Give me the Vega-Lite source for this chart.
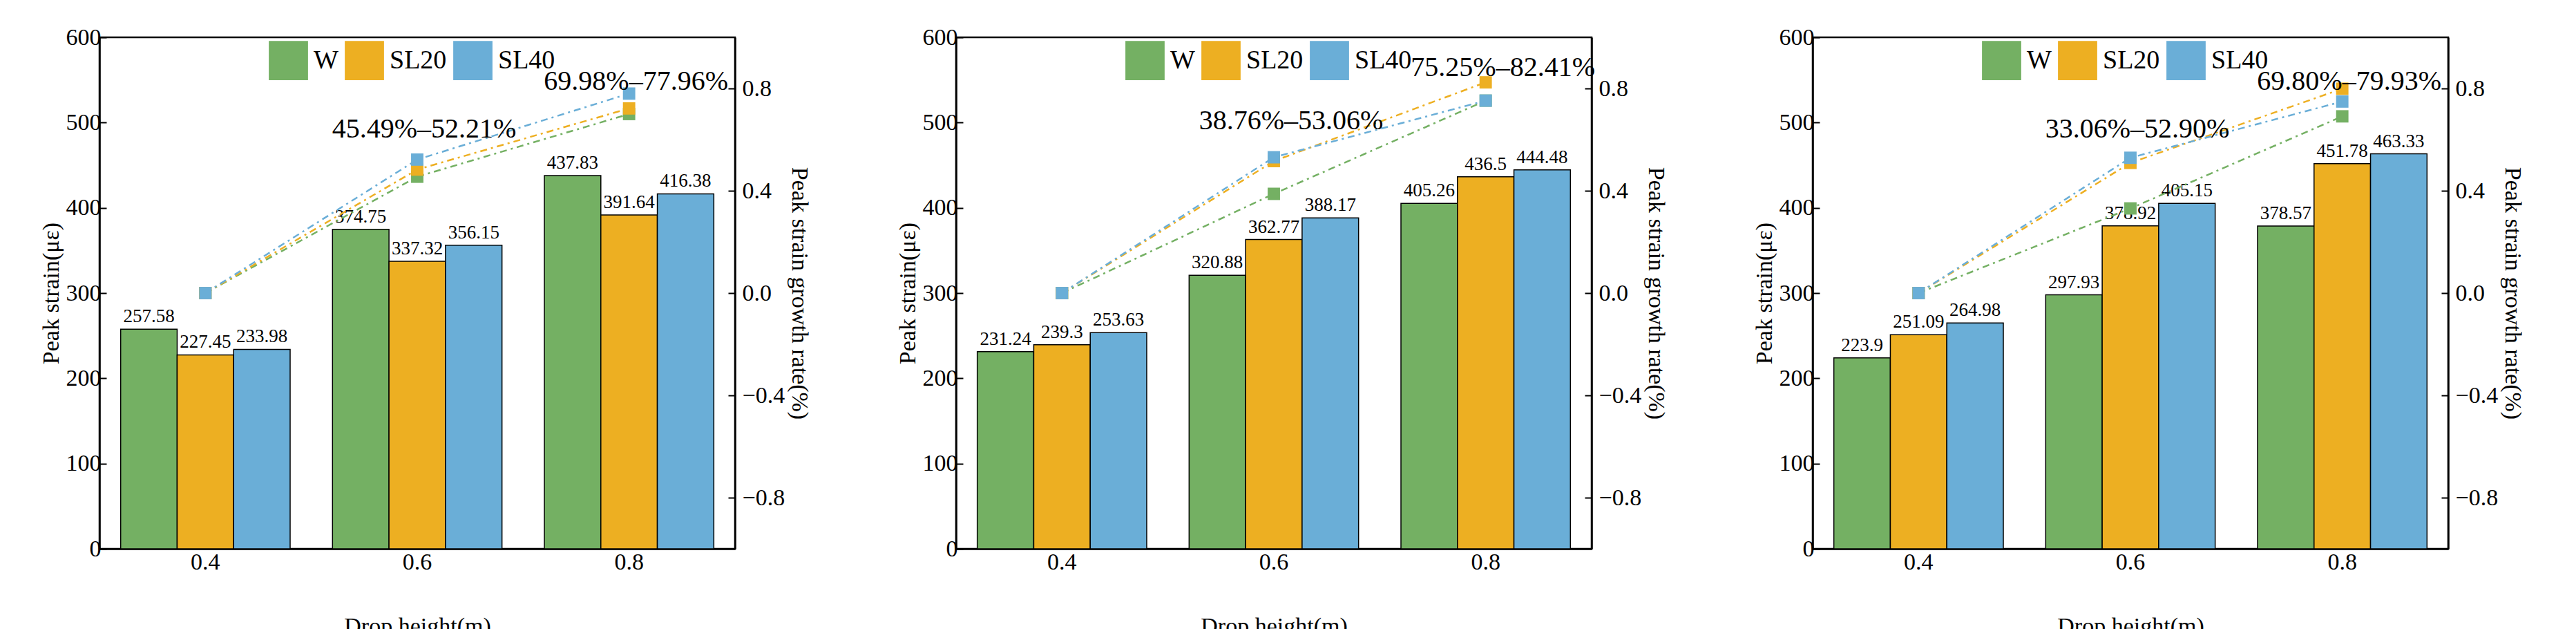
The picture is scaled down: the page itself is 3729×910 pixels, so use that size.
{
  "$schema": "https://vega.github.io/schema/vega-lite/v6.json",
  "background": "white",
  "padding": {"left": 55, "top": 35, "right": 5, "bottom": 5},
  "config": {
    "font": "Liberation Serif",
    "text": {"font": "Liberation Serif"},
    "view": {"stroke": "black", "strokeWidth": 2.5},
    "axis": {"labelFont": "Liberation Serif", "titleFont": "Liberation Serif", "labelFontSize": 34, "titleFontSize": 34, "titleFontWeight": "normal", "labelColor": "black", "titleColor": "black", "domainColor": "black", "domainWidth": 2.5, "tickColor": "black", "tickWidth": 2, "tickSize": 10, "grid": false},
    "legend": {"labelFont": "Liberation Serif", "labelFontSize": 38, "symbolType": "square", "symbolSize": 3000, "symbolStrokeColor": "black", "symbolStrokeWidth": 2, "symbolOpacity": 1, "columnPadding": 6, "labelOffset": 8}
  },
  "datasets": {
    "bars": [
      {"panel": 1, "drop": "0.4", "series": "W", "strain": 257.58},
      {"panel": 1, "drop": "0.4", "series": "SL20", "strain": 227.45},
      {"panel": 1, "drop": "0.4", "series": "SL40", "strain": 233.98},
      {"panel": 1, "drop": "0.6", "series": "W", "strain": 374.75},
      {"panel": 1, "drop": "0.6", "series": "SL20", "strain": 337.32},
      {"panel": 1, "drop": "0.6", "series": "SL40", "strain": 356.15},
      {"panel": 1, "drop": "0.8", "series": "W", "strain": 437.83},
      {"panel": 1, "drop": "0.8", "series": "SL20", "strain": 391.64},
      {"panel": 1, "drop": "0.8", "series": "SL40", "strain": 416.38},
      {"panel": 2, "drop": "0.4", "series": "W", "strain": 231.24},
      {"panel": 2, "drop": "0.4", "series": "SL20", "strain": 239.3},
      {"panel": 2, "drop": "0.4", "series": "SL40", "strain": 253.63},
      {"panel": 2, "drop": "0.6", "series": "W", "strain": 320.88},
      {"panel": 2, "drop": "0.6", "series": "SL20", "strain": 362.77},
      {"panel": 2, "drop": "0.6", "series": "SL40", "strain": 388.17},
      {"panel": 2, "drop": "0.8", "series": "W", "strain": 405.26},
      {"panel": 2, "drop": "0.8", "series": "SL20", "strain": 436.5},
      {"panel": 2, "drop": "0.8", "series": "SL40", "strain": 444.48},
      {"panel": 3, "drop": "0.4", "series": "W", "strain": 223.9},
      {"panel": 3, "drop": "0.4", "series": "SL20", "strain": 251.09},
      {"panel": 3, "drop": "0.4", "series": "SL40", "strain": 264.98},
      {"panel": 3, "drop": "0.6", "series": "W", "strain": 297.93},
      {"panel": 3, "drop": "0.6", "series": "SL20", "strain": 378.92},
      {"panel": 3, "drop": "0.6", "series": "SL40", "strain": 405.15},
      {"panel": 3, "drop": "0.8", "series": "W", "strain": 378.57},
      {"panel": 3, "drop": "0.8", "series": "SL20", "strain": 451.78},
      {"panel": 3, "drop": "0.8", "series": "SL40", "strain": 463.33}
    ],
    "lines": [
      {"panel": 1, "drop": "0.4", "series": "W", "rate": 0},
      {"panel": 1, "drop": "0.6", "series": "W", "rate": 0.455},
      {"panel": 1, "drop": "0.8", "series": "W", "rate": 0.700},
      {"panel": 1, "drop": "0.4", "series": "SL20", "rate": 0},
      {"panel": 1, "drop": "0.6", "series": "SL20", "rate": 0.483},
      {"panel": 1, "drop": "0.8", "series": "SL20", "rate": 0.722},
      {"panel": 1, "drop": "0.4", "series": "SL40", "rate": 0},
      {"panel": 1, "drop": "0.6", "series": "SL40", "rate": 0.522},
      {"panel": 1, "drop": "0.8", "series": "SL40", "rate": 0.780},
      {"panel": 2, "drop": "0.4", "series": "W", "rate": 0},
      {"panel": 2, "drop": "0.6", "series": "W", "rate": 0.388},
      {"panel": 2, "drop": "0.8", "series": "W", "rate": 0.7525},
      {"panel": 2, "drop": "0.4", "series": "SL20", "rate": 0},
      {"panel": 2, "drop": "0.6", "series": "SL20", "rate": 0.516},
      {"panel": 2, "drop": "0.8", "series": "SL20", "rate": 0.824},
      {"panel": 2, "drop": "0.4", "series": "SL40", "rate": 0},
      {"panel": 2, "drop": "0.6", "series": "SL40", "rate": 0.531},
      {"panel": 2, "drop": "0.8", "series": "SL40", "rate": 0.7525},
      {"panel": 3, "drop": "0.4", "series": "W", "rate": 0},
      {"panel": 3, "drop": "0.6", "series": "W", "rate": 0.331},
      {"panel": 3, "drop": "0.8", "series": "W", "rate": 0.691},
      {"panel": 3, "drop": "0.4", "series": "SL20", "rate": 0},
      {"panel": 3, "drop": "0.6", "series": "SL20", "rate": 0.509},
      {"panel": 3, "drop": "0.8", "series": "SL20", "rate": 0.799},
      {"panel": 3, "drop": "0.4", "series": "SL40", "rate": 0},
      {"panel": 3, "drop": "0.6", "series": "SL40", "rate": 0.529},
      {"panel": 3, "drop": "0.8", "series": "SL40", "rate": 0.749}
    ],
    "notes": [
      {"panel": 1, "drop": "0.6", "pos": 492, "label": "45.49%–52.21%"},
      {"panel": 1, "drop": "0.8", "pos": 548, "label": "69.98%–77.96%"},
      {"panel": 2, "drop": "0.6", "pos": 502, "label": "38.76%–53.06%"},
      {"panel": 2, "drop": "0.8", "pos": 564, "label": "75.25%–82.41%"},
      {"panel": 3, "drop": "0.6", "pos": 492, "label": "33.06%–52.90%"},
      {"panel": 3, "drop": "0.8", "pos": 548, "label": "69.80%–79.93%"}
    ]
  },
  "resolve": {"scale": {"color": "independent"}},
  "spacing": 120,
  "hconcat": [
    {
      "width": 920, "height": 740,
      "layer": [
        {
          "data": {"name": "bars"},
          "transform": [{"filter": "datum.panel == 1"}],
          "layer": [
            {"mark": {"type": "bar", "stroke": "black", "strokeWidth": 1.5},
             "encoding": {
               "x": {"field": "drop", "type": "nominal", "title": "Drop height(m)", "scale": {"paddingInner": 0.2, "paddingOuter": 0.1}, "axis": {"labelAngle": 0, "titleY": 95, "labelPadding": 14, "tickSize": -12}},
               "xOffset": {"field": "series", "type": "nominal", "sort": ["W", "SL20", "SL40"]},
               "y": {"field": "strain", "type": "quantitative", "title": "Peak strain(με)", "scale": {"domain": [0, 600]}, "axis": {"values": [0, 100, 200, 300, 400, 500, 600], "tickSize": -10, "labelPadding": 8}},
               "color": {"field": "series", "type": "nominal", "sort": ["W", "SL20", "SL40"], "scale": {"domain": ["W", "SL20", "SL40"], "range": ["#74b063", "#edaf22", "#6aaed7"]}, "legend": {"title": null, "orient": "none", "direction": "horizontal", "legendX": 245, "legendY": 5}}
             }},
            {"mark": {"type": "text", "dy": -4, "fontSize": 27, "baseline": "bottom", "font": "Liberation Serif"},
             "encoding": {
               "x": {"field": "drop", "type": "nominal"},
               "xOffset": {"field": "series", "type": "nominal", "sort": ["W", "SL20", "SL40"]},
               "y": {"field": "strain", "type": "quantitative"},
               "text": {"field": "strain", "type": "quantitative"}
             }}
          ]
        },
        {
          "data": {"name": "lines"},
          "transform": [{"filter": "datum.panel == 1"}],
          "layer": [
            {"mark": {"type": "line", "strokeWidth": 2.5, "strokeDash": [10, 6, 3, 6]},
             "encoding": {
               "x": {"field": "drop", "type": "nominal"},
               "y": {"field": "rate", "type": "quantitative", "title": "Peak strain growth rate(%)", "scale": {"domain": [-1, 1]}, "axis": {"orient": "right", "values": [-0.8, -0.4, 0, 0.4, 0.8], "format": ".1f", "tickSize": -10, "labelPadding": 20}},
               "color": {"field": "series", "type": "nominal", "legend": null}
             }},
            {"mark": {"type": "point", "shape": "square", "filled": true, "size": 320, "opacity": 1},
             "encoding": {
               "x": {"field": "drop", "type": "nominal"},
               "y": {"field": "rate", "type": "quantitative"},
               "color": {"field": "series", "type": "nominal", "legend": null}
             }}
          ]
        },
        {
          "data": {"name": "notes"},
          "transform": [{"filter": "datum.panel == 1"}],
          "mark": {"type": "text", "fontSize": 40, "font": "Liberation Serif", "dx": 10},
          "encoding": {
            "x": {"field": "drop", "type": "nominal"},
            "y": {"field": "pos", "type": "quantitative", "scale": {"domain": [0, 600]}, "axis": null},
            "text": {"field": "label"}
          }
        }
      ],
      "resolve": {"scale": {"y": "independent"}}
    },
    {
      "width": 920, "height": 740,
      "layer": [
        {
          "data": {"name": "bars"},
          "transform": [{"filter": "datum.panel == 2"}],
          "layer": [
            {"mark": {"type": "bar", "stroke": "black", "strokeWidth": 1.5},
             "encoding": {
               "x": {"field": "drop", "type": "nominal", "title": "Drop height(m)", "scale": {"paddingInner": 0.2, "paddingOuter": 0.1}, "axis": {"labelAngle": 0, "titleY": 95, "labelPadding": 14, "tickSize": -12}},
               "xOffset": {"field": "series", "type": "nominal", "sort": ["W", "SL20", "SL40"]},
               "y": {"field": "strain", "type": "quantitative", "title": "Peak strain(με)", "scale": {"domain": [0, 600]}, "axis": {"values": [0, 100, 200, 300, 400, 500, 600], "tickSize": -10, "labelPadding": 8}},
               "color": {"field": "series", "type": "nominal", "sort": ["W", "SL20", "SL40"], "scale": {"domain": ["W", "SL20", "SL40"], "range": ["#74b063", "#edaf22", "#6aaed7"]}, "legend": {"title": null, "orient": "none", "direction": "horizontal", "legendX": 245, "legendY": 5}}
             }},
            {"mark": {"type": "text", "dy": -4, "fontSize": 27, "baseline": "bottom", "font": "Liberation Serif"},
             "encoding": {
               "x": {"field": "drop", "type": "nominal"},
               "xOffset": {"field": "series", "type": "nominal", "sort": ["W", "SL20", "SL40"]},
               "y": {"field": "strain", "type": "quantitative"},
               "text": {"field": "strain", "type": "quantitative"}
             }}
          ]
        },
        {
          "data": {"name": "lines"},
          "transform": [{"filter": "datum.panel == 2"}],
          "layer": [
            {"mark": {"type": "line", "strokeWidth": 2.5, "strokeDash": [10, 6, 3, 6]},
             "encoding": {
               "x": {"field": "drop", "type": "nominal"},
               "y": {"field": "rate", "type": "quantitative", "title": "Peak strain growth rate(%)", "scale": {"domain": [-1, 1]}, "axis": {"orient": "right", "values": [-0.8, -0.4, 0, 0.4, 0.8], "format": ".1f", "tickSize": -10, "labelPadding": 20}},
               "color": {"field": "series", "type": "nominal", "legend": null}
             }},
            {"mark": {"type": "point", "shape": "square", "filled": true, "size": 320, "opacity": 1},
             "encoding": {
               "x": {"field": "drop", "type": "nominal"},
               "y": {"field": "rate", "type": "quantitative"},
               "color": {"field": "series", "type": "nominal", "legend": null}
             }}
          ]
        },
        {
          "data": {"name": "notes"},
          "transform": [{"filter": "datum.panel == 2"}],
          "mark": {"type": "text", "fontSize": 40, "font": "Liberation Serif", "dx": 25},
          "encoding": {
            "x": {"field": "drop", "type": "nominal"},
            "y": {"field": "pos", "type": "quantitative", "scale": {"domain": [0, 600]}, "axis": null},
            "text": {"field": "label"}
          }
        }
      ],
      "resolve": {"scale": {"y": "independent"}}
    },
    {
      "width": 920, "height": 740,
      "layer": [
        {
          "data": {"name": "bars"},
          "transform": [{"filter": "datum.panel == 3"}],
          "layer": [
            {"mark": {"type": "bar", "stroke": "black", "strokeWidth": 1.5},
             "encoding": {
               "x": {"field": "drop", "type": "nominal", "title": "Drop height(m)", "scale": {"paddingInner": 0.2, "paddingOuter": 0.1}, "axis": {"labelAngle": 0, "titleY": 95, "labelPadding": 14, "tickSize": -12}},
               "xOffset": {"field": "series", "type": "nominal", "sort": ["W", "SL20", "SL40"]},
               "y": {"field": "strain", "type": "quantitative", "title": "Peak strain(με)", "scale": {"domain": [0, 600]}, "axis": {"values": [0, 100, 200, 300, 400, 500, 600], "tickSize": -10, "labelPadding": 8}},
               "color": {"field": "series", "type": "nominal", "sort": ["W", "SL20", "SL40"], "scale": {"domain": ["W", "SL20", "SL40"], "range": ["#74b063", "#edaf22", "#6aaed7"]}, "legend": {"title": null, "orient": "none", "direction": "horizontal", "legendX": 245, "legendY": 5}}
             }},
            {"mark": {"type": "text", "dy": -4, "fontSize": 27, "baseline": "bottom", "font": "Liberation Serif"},
             "encoding": {
               "x": {"field": "drop", "type": "nominal"},
               "xOffset": {"field": "series", "type": "nominal", "sort": ["W", "SL20", "SL40"]},
               "y": {"field": "strain", "type": "quantitative"},
               "text": {"field": "strain", "type": "quantitative"}
             }}
          ]
        },
        {
          "data": {"name": "lines"},
          "transform": [{"filter": "datum.panel == 3"}],
          "layer": [
            {"mark": {"type": "line", "strokeWidth": 2.5, "strokeDash": [10, 6, 3, 6]},
             "encoding": {
               "x": {"field": "drop", "type": "nominal"},
               "y": {"field": "rate", "type": "quantitative", "title": "Peak strain growth rate(%)", "scale": {"domain": [-1, 1]}, "axis": {"orient": "right", "values": [-0.8, -0.4, 0, 0.4, 0.8], "format": ".1f", "tickSize": -10, "labelPadding": 20}},
               "color": {"field": "series", "type": "nominal", "legend": null}
             }},
            {"mark": {"type": "point", "shape": "square", "filled": true, "size": 320, "opacity": 1},
             "encoding": {
               "x": {"field": "drop", "type": "nominal"},
               "y": {"field": "rate", "type": "quantitative"},
               "color": {"field": "series", "type": "nominal", "legend": null}
             }}
          ]
        },
        {
          "data": {"name": "notes"},
          "transform": [{"filter": "datum.panel == 3"}],
          "mark": {"type": "text", "fontSize": 40, "font": "Liberation Serif", "dx": 10},
          "encoding": {
            "x": {"field": "drop", "type": "nominal"},
            "y": {"field": "pos", "type": "quantitative", "scale": {"domain": [0, 600]}, "axis": null},
            "text": {"field": "label"}
          }
        }
      ],
      "resolve": {"scale": {"y": "independent"}}
    }
  ]
}
